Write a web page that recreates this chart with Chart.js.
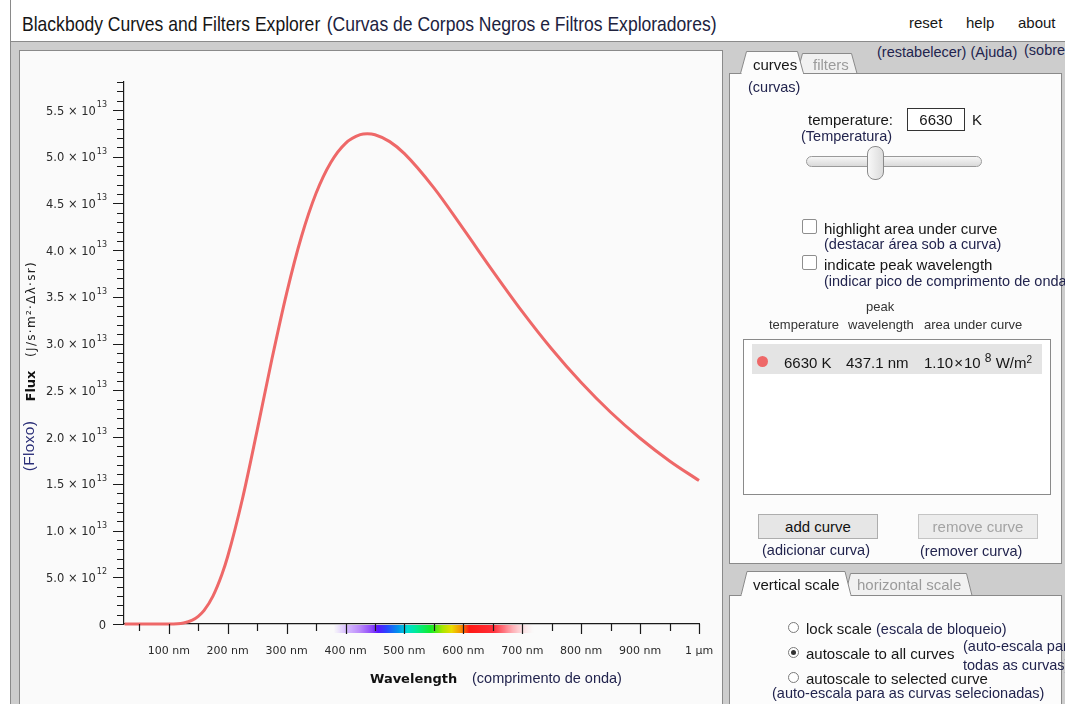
<!DOCTYPE html>
<html>
<head>
<meta charset="utf-8">
<title>Blackbody Curves and Filters Explorer</title>
<script src="https://cdn.jsdelivr.net/npm/chart.js@4.4.1/dist/chart.umd.min.js"></script>
<style>
body { margin: 0; width: 1065px; height: 704px; overflow: hidden; background: #fff; position: relative; font-family: "Liberation Sans", Arial, sans-serif; }
.abs { position: absolute; }
.box { position: absolute; box-sizing: border-box; }
.t { position: absolute; white-space: nowrap; line-height: 1; font-size: 15px; color: #161616; }
.pt { color: #22244e; font-size: 14.5px; }
.s13 { font-size: 13px; }
.gray { color: #9b9b9b; }
.check { position: absolute; width: 15px; height: 15px; box-sizing: border-box; border: 1px solid #8e8e8e; border-radius: 2px; background: #fff; }
.radio { position: absolute; width: 11px; height: 11px; box-sizing: border-box; border: 1px solid #7a7a7a; border-radius: 50%; background: #fff; }
.radio.on::after { content: ""; position: absolute; left: 2px; top: 2px; width: 5px; height: 5px; border-radius: 50%; background: #333; }
.btn { position: absolute; box-sizing: border-box; height: 25px; width: 120px; text-align: center; font-size: 15px; line-height: 23px; }
#chartPanel canvas { position: absolute; left: 0; top: 0; }
</style>
</head>
<body>

<!-- frame -->
<div class="box" style="left:10px;top:0;width:1px;height:704px;background:#8a8a8a"></div>
<div class="box" style="left:11px;top:42px;width:1054px;height:662px;background:#cdcdcd"></div>
<div class="box" style="left:10px;top:41px;width:1055px;height:1px;background:#8a8a8a"></div>

<!-- header -->
<div class="t" style="left:22px;top:13px;font-size:21px;transform:scaleX(0.835);transform-origin:0 0">Blackbody Curves and Filters Explorer <span style="margin-left:2px;color:#20223e">(Curvas de Corpos Negros e Filtros Exploradores)</span></div>
<div class="t" style="left:909px;top:15px">reset</div>
<div class="t" style="left:966px;top:15px">help</div>
<div class="t" style="left:1018px;top:15px">about</div>
<div class="t pt" style="left:877px;top:45px">(restabelecer) (Ajuda)</div>
<div class="t pt" style="left:1024px;top:43px">(sobre)</div>

<!-- chart panel -->
<div id="chartPanel" class="box" style="left:19px;top:50px;width:704px;height:660px;border:1px solid #8a8a8a;background:#fafafa">
  <canvas id="fluxChart" width="701" height="653"></canvas>
</div>

<!-- right panels -->
<div class="box" style="left:729px;top:73px;width:333px;height:491px;border:1px solid #8a8a8a;background:#fcfcfc"></div>
<div class="box" style="left:729px;top:595px;width:333px;height:120px;border:1px solid #8a8a8a;background:#fcfcfc"></div>

<svg class="abs" style="left:0;top:0" width="1065" height="704">
  <polygon points="797,73.5 802.5,53.5 851.5,53.5 857,73.5" fill="#f1f1f1" stroke="#8a8a8a"/>
  <polygon points="740.5,73.5 746.5,51.5 797.5,51.5 803.5,73.5" fill="#fcfcfc" stroke="#8a8a8a"/>
  <rect x="741.5" y="72.5" width="61.5" height="2" fill="#fcfcfc"/>
  <polygon points="845,595.5 850.5,573.5 966.5,573.5 972,595.5" fill="#f1f1f1" stroke="#8a8a8a"/>
  <polygon points="741,595.5 747,571.5 845,571.5 851,595.5" fill="#fcfcfc" stroke="#8a8a8a"/>
  <rect x="741.5" y="594.5" width="109" height="2" fill="#fcfcfc"/>
</svg>

<div class="t" style="left:753px;top:56.5px">curves</div>
<div class="t gray" style="left:813px;top:57px">filters</div>
<div class="t pt" style="left:748px;top:80px">(curvas)</div>

<div class="t" style="left:808px;top:111.5px">temperature:</div>
<div class="box" style="left:907px;top:108px;width:58px;height:23px;border:1px solid #333;background:#fff"></div>
<div class="t" id="tempField" style="left:907px;top:112px;width:58px;text-align:center"></div>
<div class="t" style="left:972px;top:111.5px">K</div>
<div class="t pt" style="left:801px;top:129px">(Temperatura)</div>

<div class="box" style="left:806px;top:156px;width:176px;height:11px;border:1px solid #9a9a9a;border-radius:6px;background:linear-gradient(#f6f6f6,#dadada)"></div>
<div class="box" style="left:867px;top:146px;width:17px;height:34px;border:1px solid #8a8a8a;border-radius:8px;background:linear-gradient(to right,#f8f8f8,#dcdcdc)"></div>

<div class="check" style="left:802px;top:219px"></div>
<div class="t" style="left:824px;top:220.5px">highlight area under curve</div>
<div class="t pt" style="left:824px;top:237px">(destacar área sob a curva)</div>
<div class="check" style="left:802px;top:255px"></div>
<div class="t" style="left:824px;top:256.5px">indicate peak wavelength</div>
<div class="t pt" style="left:824px;top:274px">(indicar pico de comprimento de onda)</div>

<div class="t s13" style="left:866px;top:300px;color:#333">peak</div>
<div class="t s13" style="left:769px;top:318px;color:#333">temperature</div>
<div class="t s13" style="left:848px;top:318px;color:#333">wavelength</div>
<div class="t s13" style="left:924px;top:318px;color:#333">area under curve</div>

<div class="box" style="left:743px;top:339px;width:308px;height:156px;border:1px solid #8a8a8a;background:#fff"></div>
<div class="box" style="left:752px;top:344px;width:290px;height:30px;background:#e4e4e4"></div>
<div class="box" id="curveDot" style="left:757px;top:356px;width:11px;height:11px;border-radius:50%"></div>
<div class="t" id="rowTemp" style="left:784px;top:354.5px"></div>
<div class="t" id="rowPeak" style="left:846px;top:354.5px"></div>
<div class="t" id="rowArea" style="left:924px;top:354.5px"></div>

<div class="btn" style="left:758px;top:514px;background:#e6e6e6;border:1px solid #adadad;color:#111">add curve</div>
<div class="btn" style="left:918px;top:514px;background:#ececec;border:1px solid #c4c4c4;color:#a3a3a3">remove curve</div>
<div class="t pt" style="left:762px;top:543px">(adicionar curva)</div>
<div class="t pt" style="left:920px;top:544px">(remover curva)</div>

<div class="t" style="left:753px;top:576.5px">vertical scale</div>
<div class="t gray" style="left:857px;top:576.5px">horizontal scale</div>

<div class="radio" style="left:788px;top:621.5px"></div>
<div class="t" style="left:806px;top:620.5px">lock scale <span class="pt">(escala de bloqueio)</span></div>
<div class="radio on" style="left:788px;top:646.5px"></div>
<div class="t" style="left:806px;top:645.5px">autoscale to all curves</div>
<div class="t pt" style="left:963px;top:639px">(auto-escala para</div>
<div class="t pt" style="left:963px;top:658px">todas as curvas)</div>
<div class="radio" style="left:788px;top:671.5px"></div>
<div class="t" style="left:806px;top:670.5px">autoscale to selected curve</div>
<div class="t pt" style="left:772px;top:686px">(auto-escala para as curvas selecionadas)</div>

<script>
// flux of the 6630 K curve, J/s·m²·Δλ·sr, at each wavelength (nm)
var wavelengthNm = [25, 50, 75, 100, 125, 140, 150, 160, 175, 190, 200, 225, 250, 275, 300, 325, 350, 375, 400,
    425, 437, 450, 475, 500, 550, 600, 650, 700, 750, 800, 850, 900, 950, 1000];
var fluxValues = [0, 0, 0, 4.5e9, 1.13e11, 4.11e11, 8.2e11, 1.46e12, 2.99e12, 5.27e12, 7.22e12, 1.338e13, 2.072e13,
    2.833e13, 3.539e13, 4.141e13, 4.609e13, 4.939e13, 5.144e13, 5.236e13, 5.246e13, 5.236e13, 5.162e13, 5.033e13,
    4.667e13, 4.228e13, 3.777e13, 3.343e13, 2.943e13, 2.584e13, 2.266e13, 1.988e13, 1.745e13, 1.535e13];

var curveTemperature = 6630;
var curvePeakNm = '437.1';
var curveAreaMantissa = '1.10';
var curveAreaExponent = '8';
var curveColor = '#ee6868';

var xMin = 24, xMax = 1000;
var xTickValues = [100, 200, 300, 400, 500, 600, 700, 800, 900, 1000];
var xTickLabels = ['100 nm', '200 nm', '300 nm', '400 nm', '500 nm', '600 nm', '700 nm', '800 nm', '900 nm', '1 µm'];
var xMinorTicks = [50, 150, 250, 350, 450, 550, 650, 750, 850, 950];

var yMax = 5.8e13;
var yTickValues = [0, 5e12, 1e13, 1.5e13, 2e13, 2.5e13, 3e13, 3.5e13, 4e13, 4.5e13, 5e13, 5.5e13];
var yTickMantissa = ['0', '5.0', '1.0', '1.5', '2.0', '2.5', '3.0', '3.5', '4.0', '4.5', '5.0', '5.5'];
var yTickExponent = ['', '12', '13', '13', '13', '13', '13', '13', '13', '13', '13', '13'];
var yMinorStep = 1e12;

// visible band drawn under the wavelength axis
var spectrumNm = [380, 400, 425, 445, 455, 470, 490, 505, 520, 545, 565, 580, 595, 610, 650, 670, 720];
var spectrumColors = ['rgba(215,190,255,0)', 'rgba(210,180,255,0.85)', 'rgb(185,135,250)', 'rgb(140,70,250)',
    'rgb(90,20,255)', 'rgb(40,70,255)', 'rgb(0,150,235)', 'rgb(0,220,210)', 'rgb(0,235,150)', 'rgb(20,235,40)',
    'rgb(170,230,0)', 'rgb(235,220,0)', 'rgb(245,150,0)', 'rgb(255,25,20)', 'rgb(255,45,55)', 'rgb(255,120,130)',
    'rgba(255,215,220,0)'];

document.getElementById('tempField').textContent = curveTemperature;
document.getElementById('curveDot').style.background = curveColor;
document.getElementById('rowTemp').textContent = curveTemperature + ' K';
document.getElementById('rowPeak').textContent = curvePeakNm + ' nm';
document.getElementById('rowArea').innerHTML = curveAreaMantissa + '<span style="margin:0 1px">×</span>10 <span style="position:relative;top:-6px;font-size:12px">' +
    curveAreaExponent + '</span> W/m<span style="position:relative;top:-5px;font-size:10px">2</span>';

var axisDecor = {
    id: 'axisDecor',
    afterDraw: function (chart) {
        var ctx = chart.ctx;
        var xs = chart.scales.x, ys = chart.scales.y;
        var left = chart.chartArea.left, bottom = chart.chartArea.bottom;
        var i, px, py;
        ctx.save();

        var first = spectrumNm[0], last = spectrumNm[spectrumNm.length - 1];
        var sx0 = xs.getPixelForValue(first), sx1 = xs.getPixelForValue(last);
        var grad = ctx.createLinearGradient(sx0, 0, sx1, 0);
        for (i = 0; i < spectrumNm.length; i++) {
            grad.addColorStop((spectrumNm[i] - first) / (last - first), spectrumColors[i]);
        }
        ctx.fillStyle = grad;
        ctx.fillRect(sx0, bottom + 1, sx1 - sx0, 8);

        // tick marks
        ctx.strokeStyle = '#1a1a1a';
        ctx.lineWidth = 1.2;
        ctx.beginPath();
        xMinorTicks.forEach(function (v) {
            px = Math.round(xs.getPixelForValue(v)) + 0.5;
            ctx.moveTo(px, bottom); ctx.lineTo(px, bottom + 7);
        });
        xTickValues.forEach(function (v) {
            px = Math.round(xs.getPixelForValue(v)) + 0.5;
            ctx.moveTo(px, bottom); ctx.lineTo(px, bottom + 10);
        });
        for (i = 1; i * yMinorStep <= yMax; i++) {
            py = Math.round(ys.getPixelForValue(i * yMinorStep)) + 0.5;
            ctx.moveTo(left, py); ctx.lineTo(left - 7, py);
        }
        yTickValues.forEach(function (v) {
            py = Math.round(ys.getPixelForValue(v)) + 0.5;
            ctx.moveTo(left, py); ctx.lineTo(left - 11, py);
        });
        ctx.stroke();

        // tick labels
        ctx.fillStyle = '#2a2a2a';
        ctx.font = '11px "DejaVu Sans"';
        ctx.textAlign = 'center';
        ctx.textBaseline = 'alphabetic';
        xTickValues.forEach(function (v, k) {
            ctx.fillText(xTickLabels[k], xs.getPixelForValue(v), bottom + 30);
        });
        ctx.textAlign = 'right';
        yTickValues.forEach(function (v, k) {
            py = ys.getPixelForValue(v);
            if (!yTickExponent[k]) {
                ctx.font = '11.5px "DejaVu Sans"';
                ctx.fillText(yTickMantissa[k], left - 18, py + 4.5);
                return;
            }
            ctx.font = '8px "DejaVu Sans"';
            ctx.fillText(yTickExponent[k], left - 17, py - 3);
            var supW = ctx.measureText(yTickExponent[k]).width;
            ctx.font = '11.5px "DejaVu Sans"';
            ctx.fillText(yTickMantissa[k] + ' × 10', left - 18 - supW, py + 4.5);
        });

        // axis titles
        ctx.textAlign = 'left';
        ctx.fillStyle = '#111';
        ctx.font = 'bold 13px "DejaVu Sans"';
        ctx.fillText('Wavelength', 350, 632);
        ctx.fillStyle = '#22244e';
        ctx.font = '14.5px "Liberation Sans"';
        ctx.fillText('(comprimento de onda)', 452, 632);

        ctx.textAlign = 'center';
        ctx.textBaseline = 'middle';
        [['Flux', 'bold 13px "DejaVu Sans"', '#111', 12, 335, '0px'],
         ['(J/s·m²·Δλ·sr)', '12px "DejaVu Sans"', '#222', 12, 258, '1.3px'],
         ['(Floxo)', '15.5px "Liberation Sans"', '#2a2e78', 10, 395, '0.3px']].forEach(function (a) {
            ctx.save();
            ctx.translate(a[3], a[4]);
            ctx.rotate(-Math.PI / 2);
            ctx.font = a[1];
            ctx.fillStyle = a[2];
            ctx.letterSpacing = a[5];
            ctx.fillText(a[0], 0, 0);
            ctx.restore();
        });

        ctx.restore();
    }
};

var points = wavelengthNm.map(function (w, i) {
    return { x: w, y: fluxValues[i] };
});

var chart = new Chart(document.getElementById('fluxChart').getContext('2d'), {
    type: 'line',
    data: {
        datasets: [{
            label: curveTemperature + ' K',
            data: points,
            borderColor: curveColor,
            borderWidth: 3,
            pointRadius: 0,
            cubicInterpolationMode: 'monotone',
            clip: false
        }]
    },
    options: {
        responsive: false,
        animation: false,
        devicePixelRatio: 1,
        layout: { padding: { left: 0, right: 22, top: 31, bottom: 0 } },
        plugins: { legend: { display: false }, tooltip: { enabled: false } },
        scales: {
            x: {
                type: 'linear',
                min: xMin,
                max: xMax,
                ticks: { display: false },
                grid: { display: false },
                border: { display: true, color: '#1a1a1a', width: 1.2 },
                afterFit: function (scale) { scale.height = 80; }
            },
            y: {
                min: 0,
                max: yMax,
                ticks: { display: false },
                grid: { display: false },
                border: { display: true, color: '#1a1a1a', width: 1.2 },
                afterFit: function (scale) { scale.width = 104; }
            }
        }
    },
    plugins: [axisDecor]
});
</script>
</body>
</html>
